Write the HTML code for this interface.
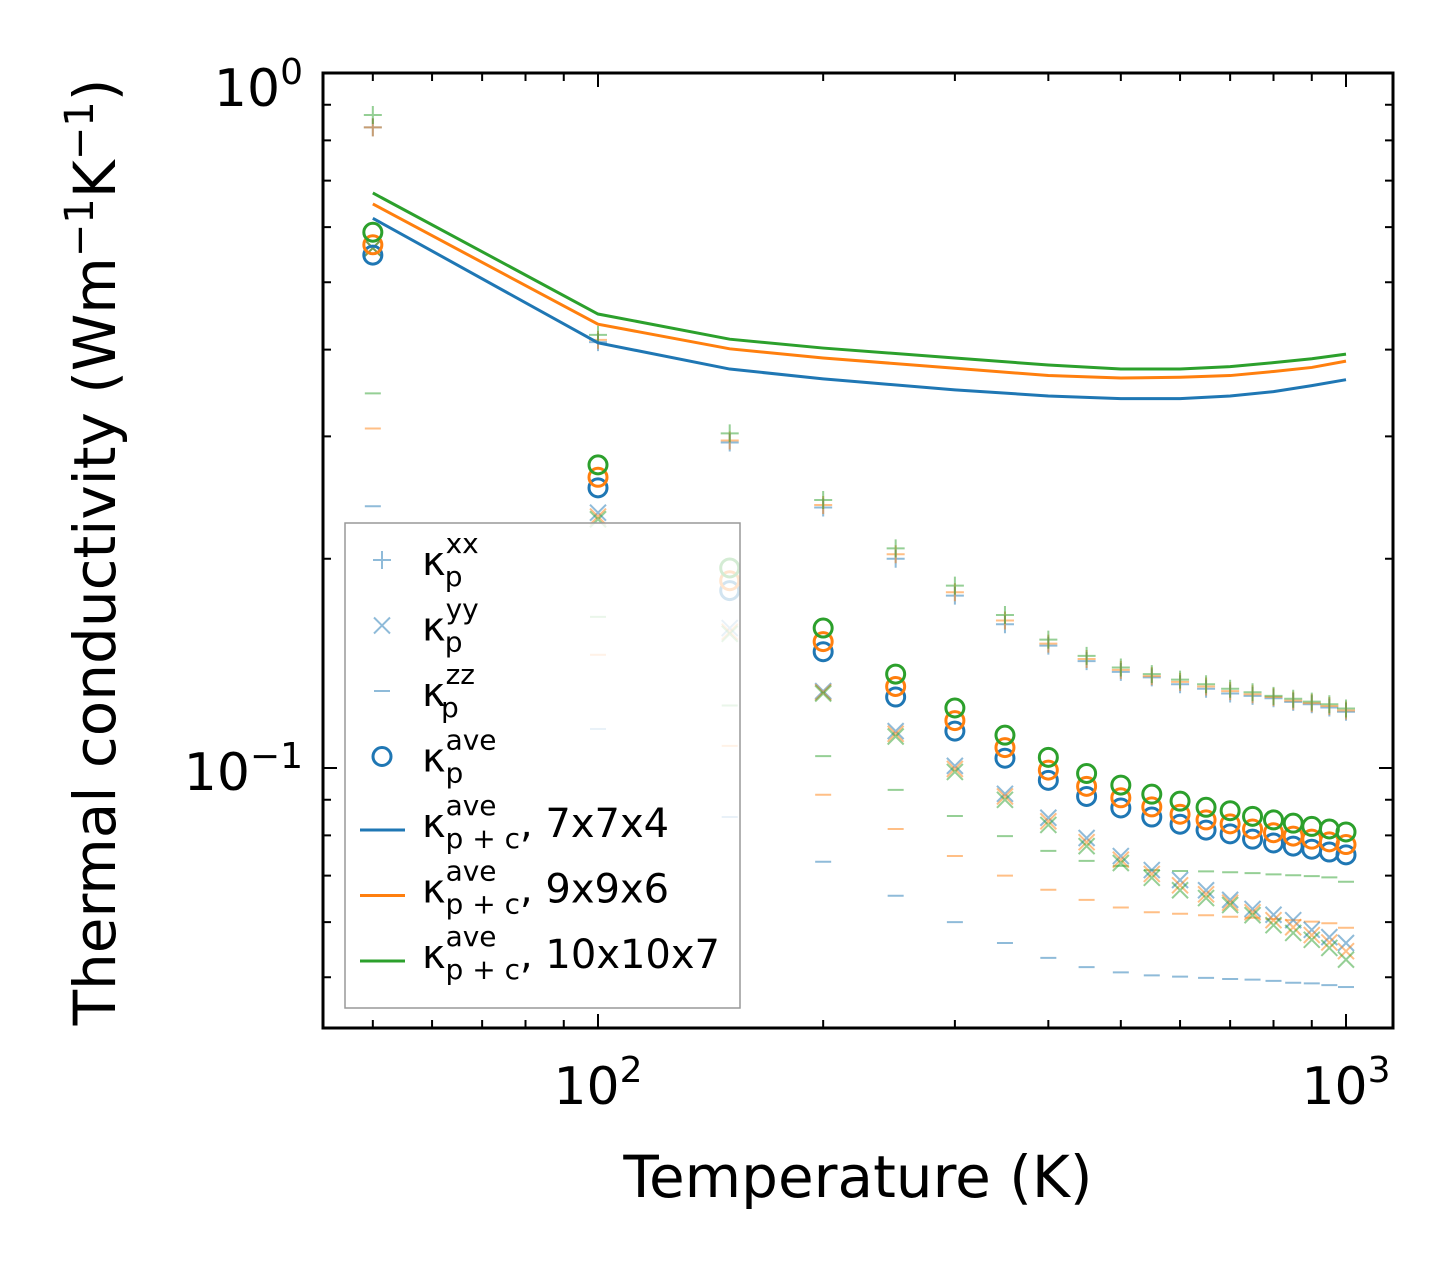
<!DOCTYPE html>
<html><head><meta charset="utf-8"><style>body{margin:0;background:#fff}svg{display:block;font-family:"DejaVu Sans","Liberation Sans",sans-serif}</style></head>
<body>
<svg id="chart" width="1454" height="1268" viewBox="0 0 1454 1268" xmlns="http://www.w3.org/2000/svg">
<rect width="1454" height="1268" fill="#fff"/>
<g id="plot"></g>
<g id="legend">
<rect x="345" y="523" width="395" height="485" fill="#fff" fill-opacity="0.8" stroke="#999" stroke-width="1.5"/>
</g>
<text x="858" y="1197" font-size="58" text-anchor="middle">Temperature (K)</text>
<text transform="translate(115,552) rotate(-90)" font-size="58" text-anchor="middle">Thermal conductivity (Wm<tspan dy="-22" font-size="40">−1</tspan><tspan dy="22">K</tspan><tspan dy="-22" font-size="40">−1</tspan><tspan dy="22">)</tspan></text>
</svg>
<script>
const temps=[50,100,150,200,250,300,350,400,450,500,550,600,650,700,750,800,850,900,950,1000];
const lineTemps=[50,100,150,200,300,400,500,600,700,800,900,1000];
const aveBlue=[0.547,0.253,0.180,0.147,0.1265,0.113,0.1033,0.096,0.091,0.0876,0.085,0.083,0.0814,0.0804,0.079,0.078,0.0772,0.0764,0.0757,0.075];
const aveOrange=[0.566,0.262,0.186,0.152,0.131,0.117,0.107,0.0993,0.0941,0.0906,0.0879,0.0858,0.0842,0.0831,0.0817,0.0807,0.0798,0.079,0.0783,0.0776];
const aveGreen=[0.590,0.273,0.194,0.159,0.1365,0.122,0.1115,0.1036,0.0982,0.0945,0.0917,0.0896,0.0878,0.0868,0.0852,0.0842,0.0833,0.0824,0.0817,0.0809];
const pcBlue=[0.618,0.409,0.375,0.363,0.350,0.343,0.340,0.340,0.343,0.348,0.355,0.362];
const pcOrange=[0.648,0.435,0.401,0.389,0.376,0.367,0.364,0.365,0.367,0.372,0.377,0.385];
const pcGreen=[0.672,0.450,0.414,0.402,0.389,0.380,0.375,0.375,0.378,0.383,0.388,0.394];
const xxBlue=[0.835,0.410,0.294,0.237,0.200,0.177,0.161,0.150,0.1425,0.1375,0.135,0.132,0.130,0.128,0.127,0.126,0.1245,0.1235,0.1222,0.1205];
const xxOrange=[0.835,0.413,0.296,0.239,0.203,0.179,0.163,0.151,0.1435,0.1384,0.1356,0.133,0.131,0.129,0.1277,0.1265,0.125,0.124,0.1228,0.121];
const xxGreen=[0.870,0.420,0.303,0.243,0.207,0.183,0.166,0.153,0.145,0.1395,0.1365,0.134,0.132,0.130,0.1285,0.127,0.1258,0.1246,0.1235,0.1218];
const yyBlue=[0.56,0.233,0.159,0.129,0.113,0.1007,0.0918,0.0848,0.0793,0.0747,0.0713,0.069,0.0667,0.0646,0.0627,0.0615,0.0604,0.0585,0.0571,0.056];
const yyOrange=[0.56,0.230,0.157,0.1285,0.112,0.0997,0.091,0.0838,0.0782,0.0738,0.0704,0.0678,0.0658,0.064,0.062,0.0604,0.059,0.0575,0.0561,0.0545];
const yyGreen=[0.56,0.228,0.156,0.128,0.111,0.0987,0.090,0.0828,0.0772,0.073,0.0695,0.0667,0.065,0.0635,0.0614,0.0594,0.0579,0.0566,0.0551,0.053];
const zzBlue=[0.238,0.1138,0.085,0.0733,0.0655,0.060,0.056,0.0533,0.0517,0.0508,0.0503,0.0501,0.0499,0.0497,0.0496,0.0494,0.0491,0.049,0.0487,0.0484];
const zzOrange=[0.308,0.1455,0.1076,0.0915,0.0817,0.0747,0.070,0.0668,0.0646,0.063,0.062,0.0617,0.0614,0.0611,0.0609,0.0606,0.0604,0.0601,0.0598,0.0589];
const zzGreen=[0.346,0.165,0.123,0.104,0.093,0.0853,0.0798,0.076,0.0735,0.0723,0.0713,0.0711,0.071,0.0708,0.0706,0.0703,0.0701,0.0699,0.0696,0.0686];
const C={b:'#1f77b4',o:'#ff7f0e',g:'#2ca02c'};
const L=323,R=1393,T=73,B=1028;
function sx(v){return 598+748*Math.log10(v/100);}
function sy(v){return 73-695*Math.log10(v);}
const NS='http://www.w3.org/2000/svg';
const plot=document.getElementById('plot');
function mk(tag,attrs,parent){const e=document.createElementNS(NS,tag);for(const k in attrs)e.setAttribute(k,attrs[k]);(parent||plot).appendChild(e);return e;}
function plus(x,y,c,g){mk('path',{d:`M${x-9},${y}H${x+9}M${x},${y-9}V${y+9}`,stroke:c,'stroke-width':2,'stroke-opacity':0.5},g);}
function cross(x,y,c,g){mk('path',{d:`M${x-8},${y-8}L${x+8},${y+8}M${x-8},${y+8}L${x+8},${y-8}`,stroke:c,'stroke-width':2,'stroke-opacity':0.5},g);}
function dash(x,y,c,g){mk('path',{d:`M${x-8},${y}H${x+8}`,stroke:c,'stroke-width':2,'stroke-opacity':0.5},g);}
function circ(x,y,c,g){mk('circle',{cx:x,cy:y,r:9,fill:'none',stroke:c,'stroke-width':3},g);}
const zz=[[zzBlue,C.b],[zzOrange,C.o],[zzGreen,C.g]];
zz.forEach(([a,c])=>{const g=mk('g',{});


a.forEach((v,i)=>dash(sx(temps[i]),sy(v),c,g));});
[[xxBlue,C.b],[xxOrange,C.o],[xxGreen,C.g]].forEach(([a,c])=>{const g=mk('g',{});


a.forEach((v,i)=>plus(sx(temps[i]),sy(v),c,g));});
[[yyBlue,C.b],[yyOrange,C.o],[yyGreen,C.g]].forEach(([a,c])=>{const g=mk('g',{});


a.forEach((v,i)=>cross(sx(temps[i]),sy(v),c,g));});
[[pcBlue,C.b],[pcOrange,C.o],[pcGreen,C.g]].forEach(([a,c])=>{
const p=mk('polyline',{points:a.map((v,i)=>sx(lineTemps[i])+','+sy(v)).join(' '),fill:'none',stroke:c,'stroke-width':3});

});
[[aveBlue,C.b],[aveOrange,C.o],[aveGreen,C.g]].forEach(([a,c])=>{const g=mk('g',{});


a.forEach((v,i)=>circ(sx(temps[i]),sy(v),c,g));});
const fr=mk('rect',{x:L,y:T,width:R-L,height:B-T,fill:'none',stroke:'#000','stroke-width':3});


const ax=mk('g',{stroke:'#000','stroke-width':2});


[100,1000].forEach(v=>{const x=sx(v);mk('path',{d:`M${x},${B}v-14M${x},${T}v14`},ax);});
[50,60,70,80,90,200,300,400,500,600,700,800,900].forEach(v=>{const x=sx(v);mk('path',{d:`M${x},${B}v-8M${x},${T}v8`},ax);});
[1,0.1].forEach(v=>{const y=sy(v);mk('path',{d:`M${L},${y}h14M${R},${y}h-14`},ax);});
[0.05,0.06,0.07,0.08,0.09,0.2,0.3,0.4,0.5,0.6,0.7,0.8,0.9].forEach(v=>{const y=sy(v);mk('path',{d:`M${L},${y}h8M${R},${y}h-8`},ax);});
const lbl=mk('g',{'font-size':52,fill:'#000'});
lbl.innerHTML=`<text x="${sx(100)}" y="1104" text-anchor="middle">10<tspan dy="-22" font-size="36">2</tspan></text>
<text x="${sx(1000)}" y="1104" text-anchor="middle">10<tspan dy="-22" font-size="36">3</tspan></text>
<text x="303" y="${sy(1)+33}" text-anchor="end">10<tspan dy="-22" font-size="36">0</tspan></text>
<text x="303" y="${sy(0.1)+22}" text-anchor="end">10<tspan dy="-22" font-size="36">−1</tspan></text>`;
const lg=document.getElementById('legend');
const rows=[['xx','p','',plus,C.b],['yy','p','',cross,C.b],['zz','p','',dash,C.b],['ave','p','',circ,C.b],['ave','p + c',', 7x7x4','line',C.b],['ave','p + c',', 9x9x6','line',C.o],['ave','p + c',', 10x10x7','line',C.g]];
rows.forEach((r,i)=>{const y=560+i*65.5;const g=mk('g',{},lg);


if(r[3]==='line')mk('path',{d:`M360,${y+8}H405`,stroke:r[4],'stroke-width':3},g);else r[3](382,y,r[4],g);
const t=mk('text',{x:422,y:y+15,'font-size':40},g);
t.innerHTML=`κ<tspan dy="-22" font-size="28">${r[0]}</tspan><tspan dx="${-(r[0].length*17)}" dy="33" font-size="28">${r[1]}</tspan><tspan dy="-11">${r[2]}</tspan>`;});
</script>
</body></html>
